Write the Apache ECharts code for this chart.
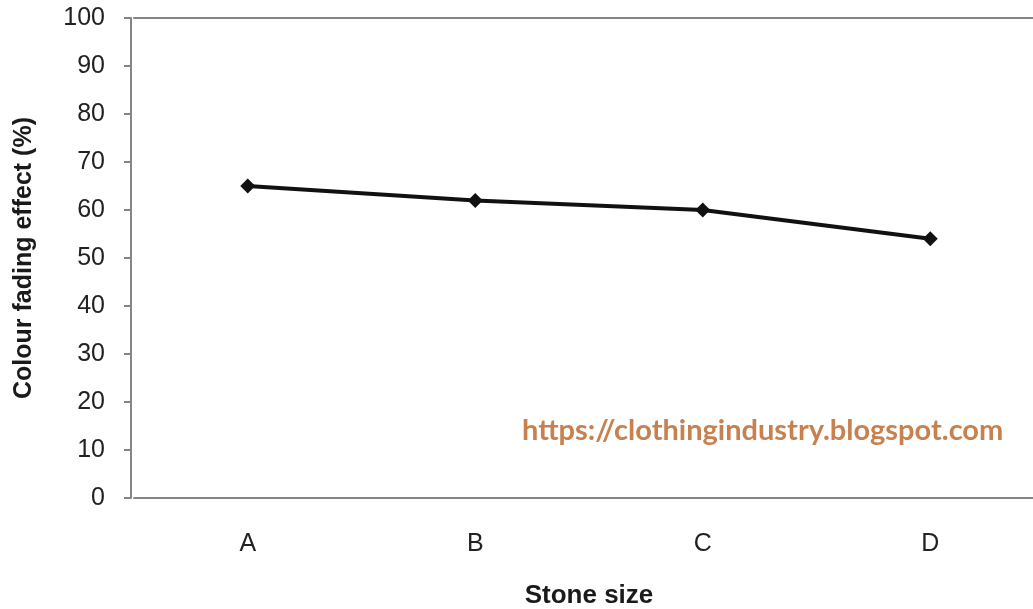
<!DOCTYPE html>
<html>
<head>
<meta charset="utf-8">
<script src="https://cdn.jsdelivr.net/npm/echarts@6/dist/echarts.min.js"></script>
<style>
  html, body { margin: 0; padding: 0; background: #ffffff; }
  #chart { width: 1033px; height: 609px; }
</style>
</head>
<body>
<div id="chart"></div>
<script>
// Stone size categories and the measured colour fading effect
const categories = ['A', 'B', 'C', 'D'];
const fadingEffect = [65, 62, 60, 54];
const yTicks = { min: 0, max: 100, interval: 10 };

const axisGrey = '#858585';
const textFont = '"Liberation Sans", Arial, sans-serif';

const chart = echarts.init(document.getElementById('chart'));
chart.setOption({
  animation: false,
  backgroundColor: '#ffffff',
  // plot area runs past the right edge of the canvas
  grid: { left: 134, right: -11, top: 18, bottom: 111, containLabel: false, outerBoundsMode: 'none' },
  xAxis: [{
    type: 'category',
    data: categories,
    boundaryGap: true,
    name: 'Stone size',
    nameLocation: 'middle',
    nameGap: 85,
    nameTextStyle: { fontFamily: textFont, fontSize: 26, fontWeight: 'bold', color: '#1a1a1a' },
    axisLine: { lineStyle: { color: axisGrey, width: 2 } },
    axisTick: { alignWithLabel: true, length: 6, lineStyle: { color: axisGrey, width: 2 } },
    axisLabel: { margin: 34, fontFamily: textFont, fontSize: 25, color: '#222' },
    splitLine: { show: false }
  }, {
    type: 'category',
    data: categories,
    position: 'top',
    axisLine: { lineStyle: { color: axisGrey, width: 2 } },
    axisTick: { show: false },
    axisLabel: { show: false },
    splitLine: { show: false }
  }],
  yAxis: {
    type: 'value',
    min: yTicks.min,
    max: yTicks.max,
    interval: yTicks.interval,
    offset: 3,
    name: 'Colour fading effect (%)',
    nameLocation: 'middle',
    nameGap: 94,
    nameRotate: 90,
    nameTextStyle: { fontFamily: textFont, fontSize: 25, fontWeight: 'bold', color: '#1a1a1a' },
    axisLine: { show: true, lineStyle: { color: axisGrey, width: 2 } },
    axisTick: { show: true, length: 7, lineStyle: { color: axisGrey, width: 2 } },
    axisLabel: { margin: 26, fontFamily: textFont, fontSize: 25, color: '#222' },
    splitLine: { show: false }
  },
  series: [{
    type: 'line',
    data: fadingEffect,
    symbol: 'diamond',
    symbolSize: 15,
    lineStyle: { color: '#111', width: 4 },
    itemStyle: { color: '#111' }
  }],
  graphic: [{
    type: 'text',
    left: 522,
    top: 416,
    style: {
      text: 'https://clothingindustry.blogspot.com',
      fill: '#c8804f',
      font: 'bold 29px Lato, "Open Sans", sans-serif'
    }
  }]
});
</script>
</body>
</html>
